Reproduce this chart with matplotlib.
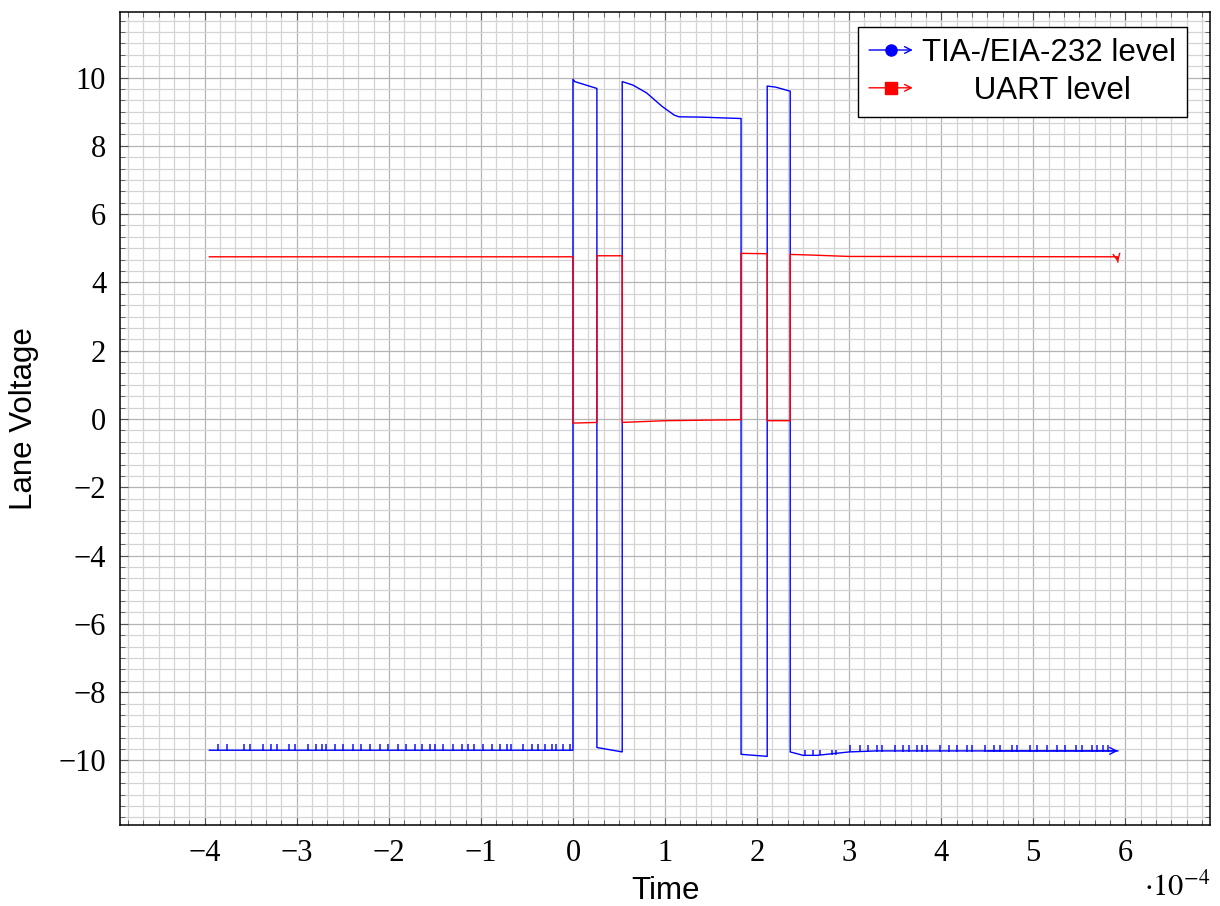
import numpy as np
import matplotlib
matplotlib.use("Agg")
import matplotlib.pyplot as plt
from matplotlib.lines import Line2D
from matplotlib.patches import FancyArrowPatch
from matplotlib.legend_handler import HandlerLine2D
from matplotlib.ticker import MultipleLocator, AutoMinorLocator

plt.rcParams['mathtext.fontset'] = 'stix'

# time in units of 1e-4 s, voltage in V (breakpoints)
t_rs232 = [-3.95, 0.0, 0.0, 0.02, 0.26, 0.26, 0.535, 0.535, 0.65, 0.80, 0.97, 1.1, 1.15,
           1.4, 1.6, 1.826, 1.826, 2.11, 2.11, 2.2, 2.36, 2.36, 2.5, 2.65, 3.0, 3.3, 4.5, 5.92]
v_rs232 = [-9.7, -9.7, 9.95, 9.88, 9.68, -9.62, -9.75, 9.88, 9.78, 9.55, 9.15, 8.9, 8.85,
           8.84, 8.82, 8.8, -9.82, -9.88, 9.75, 9.72, 9.6, -9.75, -9.85, -9.85, -9.75, -9.72, -9.72, -9.72]

# small noise spikes on the negative level of the RS-232 trace
spike_t_pre = [-3.86, -3.76, -3.57, -3.51, -3.37, -3.28, -3.22, -3.08, -3.02, -2.88, -2.79,
               -2.73, -2.68, -2.59, -2.50, -2.39, -2.30, -2.21, -2.10, -2.01, -1.90, -1.81,
               -1.72, -1.64, -1.55, -1.50, -1.41, -1.30, -1.21, -1.14, -1.07, -0.98, -0.88,
               -0.79, -0.72, -0.67, -0.54, -0.45, -0.38, -0.30, -0.23, -0.18, -0.11, -0.03]
spike_t_dip = [2.52, 2.61, 2.68, 2.81, 2.86]
spike_t_post = [3.01, 3.12, 3.21, 3.30, 3.36, 3.50, 3.59, 3.65,
                3.74, 3.79, 3.85, 3.99, 4.08, 4.17, 4.28, 4.33, 4.48, 4.57, 4.64, 4.77, 4.82,
                4.97, 5.04, 5.15, 5.26, 5.35, 5.46, 5.53, 5.64, 5.69, 5.76, 5.81]
spike_base = [-9.72, -9.84, -9.74]
spike_top = [-9.52, -9.68, -9.56]

t_uart = [-3.95, 0.0, 0.0, 0.26, 0.26, 0.535, 0.535, 1.0, 1.826, 1.826, 2.11, 2.11, 2.36,
          2.36, 2.6, 3.0, 5.91, 5.92]
v_uart = [4.75, 4.75, -0.12, -0.1, 4.78, 4.78, -0.1, -0.05, -0.02, 4.85, 4.84, -0.05, -0.05,
          4.82, 4.8, 4.76, 4.75, 4.6]

labels = ['TIA-/EIA-232 level', '      UART level']
colors = ['#0000ff', '#ff0000']
markers = ['o', 's']


class ArrowHandler(HandlerLine2D):
    def create_artists(self, legend, orig_handle, xdescent, ydescent, width, height, fontsize, trans):
        y = height / 2 - ydescent
        arr = FancyArrowPatch((-xdescent, y), (-xdescent + width, y), arrowstyle='->',
                              mutation_scale=12, color=orig_handle.get_color(), lw=1.0,
                              shrinkA=0, shrinkB=0, transform=trans)
        mk = Line2D([-xdescent + width * 0.5], [y], marker=orig_handle.get_marker(),
                    markersize=8, color=orig_handle.get_color(), linestyle='none', transform=trans)
        return [arr, mk]


fig = plt.figure(figsize=(12.2, 9.06), dpi=100)
ax = fig.add_axes([0.0984, 0.0894, 0.8934, 0.8974])

handles = []
for t, v, c, m, lab in zip([t_rs232, t_uart], [v_rs232, v_uart], colors, markers, labels):
    ax.plot(t, v, color=c, lw=1.0, zorder=3)
    ax.annotate('', xy=(t[-1], v[-1]), xytext=(t[-2], v[-2]),
                arrowprops=dict(arrowstyle='->', color=c, lw=1.0, mutation_scale=12,
                                shrinkA=0, shrinkB=0), zorder=4)
    handles.append(Line2D([], [], color=c, marker=m, label=lab))

for st, b, top in zip([spike_t_pre, spike_t_dip, spike_t_post], spike_base, spike_top):
    ax.vlines(st, b, top, color=colors[0], lw=1.2, alpha=0.85, zorder=3)

ax.set_xlim(-4.92, 6.92)
ax.set_ylim(-11.89, 11.92)
ax.xaxis.set_major_locator(MultipleLocator(1))
ax.yaxis.set_major_locator(MultipleLocator(2))
ax.xaxis.set_minor_locator(AutoMinorLocator(6))
ax.yaxis.set_minor_locator(AutoMinorLocator(6))
ax.grid(which='minor', color='#d4d4d4', lw=0.9, zorder=0)
ax.grid(which='major', color='#b4b4b4', lw=0.9, zorder=0)
ax.set_axisbelow(True)
ax.tick_params(which='both', direction='in', top=True, right=True, color='#555555')
ax.tick_params(which='major', length=6, width=0.8, labelsize=22, pad=10)
ax.tick_params(which='minor', length=3.5, width=0.6)
for lab in ax.get_xticklabels() + ax.get_yticklabels():
    lab.set_fontfamily('Liberation Serif')
for s in ax.spines.values():
    s.set_linewidth(1.1)

ax.set_xlabel('Time', fontsize=22.5, family='Liberation Sans', labelpad=6)
ax.set_ylabel('Lane Voltage', fontsize=22.5, family='Liberation Sans', labelpad=14)
ax.text(1.0, -0.075, r'$\cdot 10^{-4}$', transform=ax.transAxes, ha='right', va='center',
        fontsize=22)

leg = ax.legend(handles=handles, loc='upper right', bbox_to_anchor=(0.979, 0.9815),
                handler_map={Line2D: ArrowHandler()}, fancybox=False, framealpha=1,
                edgecolor='black', prop={'family': 'Liberation Sans', 'size': 22.5},
                handlelength=1.4, handletextpad=0.3, borderpad=0.35, labelspacing=0.25,
                borderaxespad=0)
leg.get_frame().set_linewidth(1.0)

fig.savefig('out.png', dpi=100)
